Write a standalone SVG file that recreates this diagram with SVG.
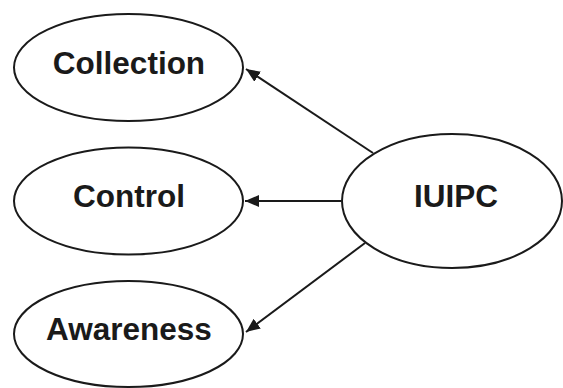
<svg xmlns="http://www.w3.org/2000/svg" width="563" height="388" viewBox="0 0 563 388">
  <style>
    .node ellipse { fill: #ffffff; stroke: #1a1a1a; stroke-width: 2; }
    .node text { font-family: "Liberation Sans", Arial, sans-serif; font-weight: bold; font-size: 31.5px; fill: #1a1a1a; text-anchor: middle; }
    .edge { stroke: #1a1a1a; stroke-width: 2; fill: none; marker-end: url(#arrow); }
  </style>
  <defs>
    <marker id="arrow" viewBox="0 0 14 12" refX="14" refY="6" markerWidth="14" markerHeight="12" markerUnits="userSpaceOnUse" orient="auto">
      <path d="M0,0 L14,6 L0,12 z" fill="#1a1a1a"/>
    </marker>
  </defs>
  <rect width="563" height="388" fill="#ffffff"/>

  <g id="connectors">
    <line class="edge" x1="373" y1="153" x2="246" y2="69"/>
    <line class="edge" x1="341" y1="201" x2="245" y2="201"/>
    <line class="edge" x1="365" y1="243" x2="246" y2="332"/>
  </g>

  <g id="collection" class="node">
    <ellipse cx="128.5" cy="67.5" rx="114.5" ry="53.5"/>
    <text x="129" y="74">Collection</text>
  </g>
  <g id="control" class="node">
    <ellipse cx="128.5" cy="201" rx="114.5" ry="53.5"/>
    <text x="129" y="207">Control</text>
  </g>
  <g id="awareness" class="node">
    <ellipse cx="128.5" cy="334" rx="114.5" ry="53"/>
    <text x="129" y="340">Awareness</text>
  </g>
  <g id="iuipc" class="node">
    <ellipse cx="452" cy="201" rx="110" ry="67"/>
    <text x="456" y="207">IUIPC</text>
  </g>
</svg>
